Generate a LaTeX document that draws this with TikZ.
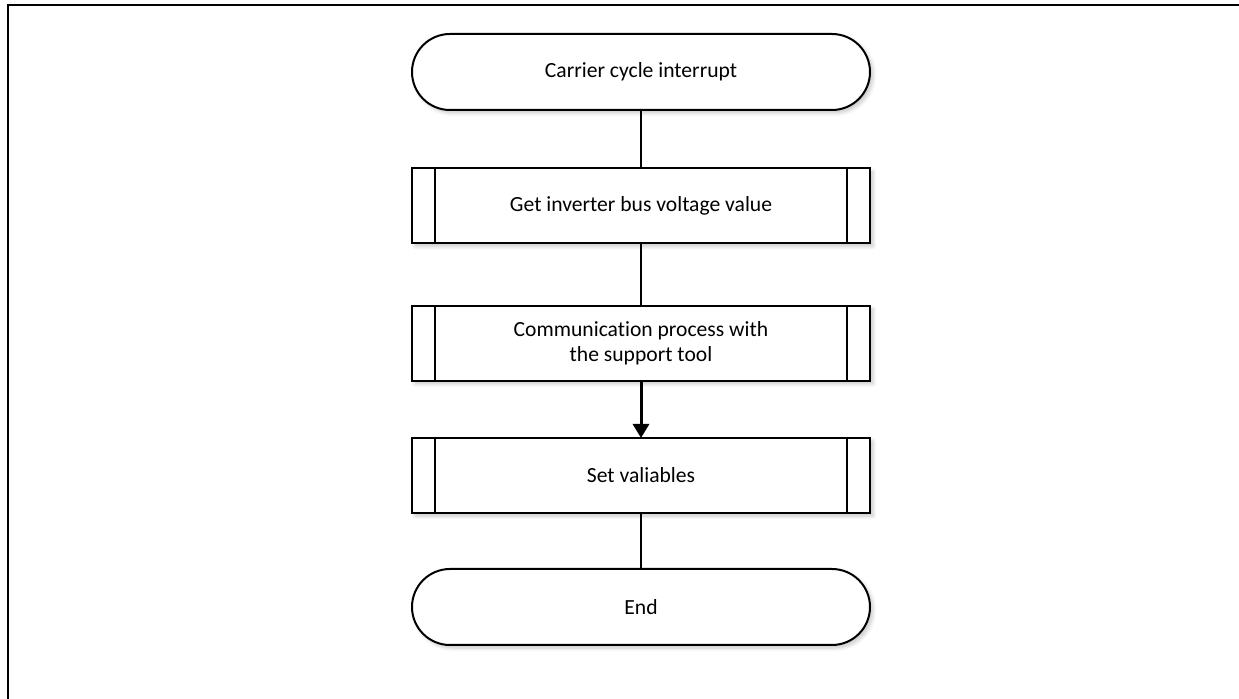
\documentclass[tikz,border=0pt]{standalone}
\usepackage{fontspec}
\setmainfont[Ligatures=NoCommon]{Carlito}
\usetikzlibrary{arrows.meta,shadows.blur}

\begin{document}
\begin{tikzpicture}[x=0.5pt,y=-0.5pt,inner sep=0pt,outer sep=0pt,line width=1pt,
font=\fontsize{10.8pt}{12.5pt}\selectfont,
shade/.style={blur shadow={shadow xshift=1.5pt,shadow yshift=-1.5pt,shadow opacity=22,shadow blur steps=6}},
termbox/.style={draw,fill=white,rectangle,rounded corners=19pt,minimum width=229pt,minimum height=38pt,shade},
procbox/.style={draw,fill=white,rectangle,minimum width=229pt,minimum height=37.5pt,align=center,shade,
  path picture={\draw ([xshift=11.5pt]path picture bounding box.north west) -- ([xshift=11.5pt]path picture bounding box.south west);
                \draw ([xshift=-11.5pt]path picture bounding box.north east) -- ([xshift=-11.5pt]path picture bounding box.south east);}}]

\useasboundingbox (0,0) rectangle (1239,699);
\draw (8,699) -- (8,5.5) -- (1239,5.5);

\draw (641,72) node[termbox] (start) {Carrier cycle interrupt};
\draw (641,206) node[procbox] (getv) {Get inverter bus voltage value};
\draw (641,343.5) node[procbox] (comm) {Communication process with\\the support tool};
\draw (641,475.5) node[procbox] (setv) {Set valiables};
\draw (641,607) node[termbox] (stop) {End};

\draw (start.south) -- (getv.north);
\draw (getv.south) -- (comm.north);
\draw[-{Triangle[width=8pt,length=7pt]},line width=1.5pt] (comm.south) -- (setv.north);
\draw (setv.south) -- (stop.north);
\end{tikzpicture}
\end{document}
